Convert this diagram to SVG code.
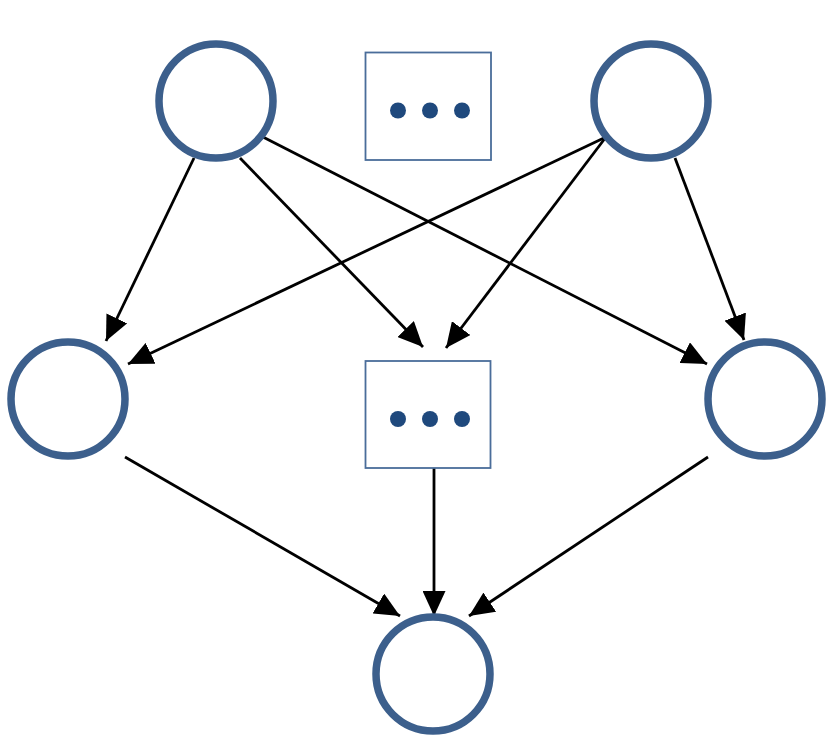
<svg xmlns="http://www.w3.org/2000/svg" width="830" height="742" viewBox="0 0 830 742">
<style>
.c{fill:#fff;stroke:#3c5f8c;stroke-width:7.5}
.b{fill:#fff;stroke:#4a6d9a;stroke-width:1.8}
.d{fill:#1f497d}
.e{stroke:#000;stroke-width:2.8;fill:none;marker-end:url(#ah)}
</style>
<defs>
<marker id="ah" markerUnits="userSpaceOnUse" markerWidth="25" markerHeight="23" viewBox="0 0 25 23" refX="25" refY="11.5" orient="auto">
<path d="M0,0 L25,11.5 L0,23 z" fill="#000"/>
</marker>
</defs>
<rect width="830" height="742" fill="#fff"/>
<g id="connectors">
<line class="e" x1="194" y1="158" x2="106" y2="341"/>
<line class="e" x1="240" y1="158" x2="423" y2="347"/>
<line class="e" x1="263" y1="137" x2="707" y2="364"/>
<line class="e" x1="606" y1="137" x2="128" y2="364"/>
<line class="e" x1="606" y1="137" x2="446" y2="348"/>
<line class="e" x1="675" y1="158" x2="744" y2="340"/>
<line class="e" x1="125" y1="457" x2="400" y2="616"/>
<line class="e" x1="434" y1="468" x2="434" y2="616"/>
<line class="e" x1="708" y1="457" x2="469" y2="616"/>
</g>
<g id="n_tl"><circle class="c" cx="216" cy="101" r="57"/></g>
<g id="n_top_box"><rect class="b" x="365.5" y="52.5" width="125.5" height="107.5"/><circle class="d" cx="398" cy="110.5" r="8"/><circle class="d" cx="430" cy="110.5" r="8"/><circle class="d" cx="462" cy="110.5" r="8"/></g>
<g id="n_tr"><circle class="c" cx="651" cy="101" r="57"/></g>
<g id="n_ml"><circle class="c" cx="68" cy="399" r="57"/></g>
<g id="n_mid_box"><rect class="b" x="365.5" y="361" width="125" height="107"/><circle class="d" cx="398" cy="419" r="8"/><circle class="d" cx="430" cy="419" r="8"/><circle class="d" cx="462" cy="419" r="8"/></g>
<g id="n_mr"><circle class="c" cx="765" cy="399" r="57"/></g>
<g id="n_bottom"><circle class="c" cx="433" cy="674" r="57"/></g>
</svg>
